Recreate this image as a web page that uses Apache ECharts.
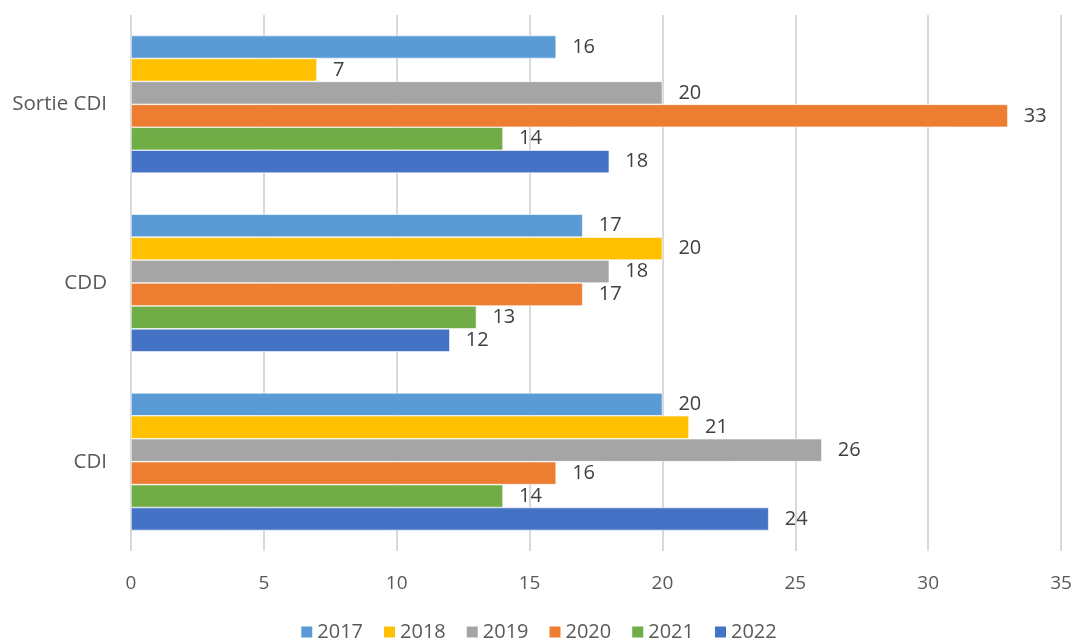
<!DOCTYPE html>
<html>
<head>
<meta charset="utf-8">
<script src="https://cdn.jsdelivr.net/npm/echarts@6/dist/echarts.min.js"></script>
<style>
  html, body { margin: 0; padding: 0; background: #fff; }
  #chart { width: 1076px; height: 644px; }
</style>
</head>
<body>
<div id="chart"></div>
<script>
  // categories, top to bottom
  const categories = ['Sortie CDI', 'CDD', 'CDI']
  const years = ['2017', '2018', '2019', '2020', '2021', '2022']
  const colors = ['#5B9BD5', '#FFC000', '#A5A5A5', '#ED7D31', '#70AD47', '#4472C4']

  // values per year, in category order
  const v2017 = [16, 17, 20]
  const v2018 = [7, 20, 21]
  const v2019 = [20, 18, 26]
  const v2020 = [33, 17, 16]
  const v2021 = [14, 13, 14]
  const v2022 = [18, 12, 24]
  const values = [v2017, v2018, v2019, v2020, v2021, v2022]

  const xTicks = { min: 0, max: 35, interval: 5 }

  const myChart = echarts.init(document.getElementById('chart'))
  const option = {
    animation: false,
    textStyle: { fontFamily: 'Open Sans, Noto Sans, sans-serif' },
    color: colors,
    grid: { left: 131, right: 15, top: 15, bottom: 93, containLabel: false },
    legend: {
      top: 617,
      padding: 5,
      data: years,
      itemWidth: 13,
      itemHeight: 13,
      itemGap: 19,
      icon: 'rect',
      textStyle: { fontSize: 20, color: '#595959', padding: [0, 0, 0, -1] }
    },
    xAxis: {
      type: 'value',
      min: xTicks.min,
      max: xTicks.max,
      interval: xTicks.interval,
      axisLine: { show: false },
      axisTick: { show: false },
      axisLabel: { fontSize: 19, color: '#595959', margin: 23 },
      splitLine: { lineStyle: { color: '#d9d9d9', width: 2 } }
    },
    yAxis: {
      type: 'category',
      inverse: true,
      data: categories,
      axisLine: { show: false },
      axisTick: { show: false },
      axisLabel: { fontSize: 20.5, color: '#595959', margin: 24 }
    },
    series: years.map((y, i) => ({
      name: y,
      type: 'bar',
      data: values[i],
      barGap: '0%',
      barCategoryGap: '23%',
      itemStyle: { borderColor: '#ffffff', borderWidth: 0.6 },
      label: {
        show: true,
        position: 'right',
        distance: 16,
        fontSize: 20,
        color: '#404040'
      }
    }))
  }
  myChart.setOption(option)
</script>
</body>
</html>
